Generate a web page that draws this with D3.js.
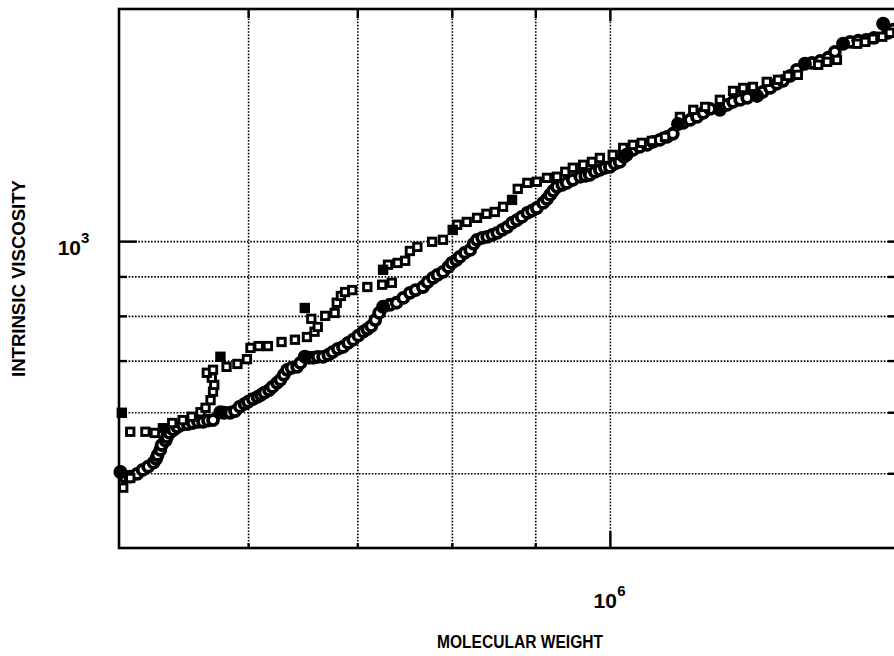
<!DOCTYPE html>
<html lang="en">
<head>
<meta charset="utf-8">
<title>Intrinsic viscosity vs molecular weight</title>
<script src="https://d3js.org/d3.v7.min.js"></script>
<style>
  body { margin: 0; background: #fff; }
  text { font-family: "Liberation Sans", Arial, sans-serif; font-weight: bold; fill: #000; }
  .grid line { stroke: #000; stroke-width: 1.6; stroke-dasharray: 1.6,1.6; }
  .ticks line { stroke: #000; stroke-width: 2.4; }
</style>
</head>
<body>
<div id="viz"></div>
<script>
// gridline / tick values
var xGrid = [6e5, 7e5, 8e5, 9e5, 1e6];
var yGrid = [500, 600, 700, 800, 900, 1000];

// [molecular weight, intrinsic viscosity]
var openSquares = [
  [503e3,479],[508e3,493],[508e3,566],[519e3,566],[526e3,564],[539e3,581],[547e3,586],[554e3,592],
  [561e3,600],[565e3,608],[569e3,622],[571e3,638],[572e3,651],[570e3,665],[566e3,675],[571e3,681],
  [582e3,687],[591e3,693],[599e3,703],[602e3,727],[609e3,731],[617e3,731],[629e3,740],[641e3,745],
  [652e3,751],[659e3,763],[662e3,774],[656e3,793],[669e3,800],[678e3,807],[680e3,832],[684e3,849],
  [688e3,859],[695e3,864],[710e3,872],[725e3,878],[735e3,883],[731e3,932],[741e3,937],[749e3,943],
  [754e3,971],[762e3,983],[778e3,998],[790e3,1004],[806e3,1050],[817e3,1059],[829e3,1072],[840e3,1085],
  [850e3,1091],[860e3,1108],[878e3,1169],[890e3,1190],[902e3,1194],[915e3,1208],[928e3,1212],[939e3,1230],
  [949e3,1245],[963e3,1256],[975e3,1267],[986e3,1282],[1004e3,1294],[1019e3,1321],[1033e3,1333],[1046e3,1341],
  [1061e3,1349],[1081e3,1365],[1104e3,1449],[1125e3,1480],[1144e3,1493],[1168e3,1525],[1190e3,1566],[1207e3,1580],
  [1224e3,1585],[1248e3,1609],[1268e3,1619],[1286e3,1638],[1304e3,1643],[1342e3,1693],[1359e3,1708],[1378e3,1718],
  [1418e3,1803],[1434e3,1813],[1450e3,1830],[1469e3,1841],[1485e3,1863]
];
var filledSquares = [
  [502e3,599],[532e3,572],[577e3,708],[650e3,819],[726e3,918],[801e3,1034],[871e3,1131]
];
var openCircles = [
  [504e3,495],[508e3,495],[513e3,499],[517e3,505],[521e3,510],[525e3,516],[527e3,522],[528e3,528],
  [530e3,536],[531e3,544],[534e3,551],[535e3,557],[537e3,564],[540e3,569],[543e3,574],[547e3,578],
  [551e3,579],[555e3,581],[559e3,583],[563e3,583],[567e3,585],[571e3,586],[580e3,599],[585e3,599],
  [589e3,602],[593e3,610],[597e3,615],[600e3,619],[604e3,624],[608e3,628],[611e3,632],[614e3,636],
  [618e3,641],[621e3,647],[625e3,655],[628e3,661],[631e3,671],[634e3,681],[638e3,685],[643e3,687],
  [646e3,695],[654e3,706],[658e3,706],[662e3,708],[667e3,708],[672e3,712],[676e3,718],[681e3,725],
  [686e3,729],[691e3,738],[696e3,745],[701e3,754],[706e3,763],[710e3,769],[714e3,776],[718e3,790],
  [722e3,807],[733e3,827],[740e3,832],[747e3,844],[754e3,857],[760e3,864],[768e3,872],[773e3,885],
  [779e3,896],[784e3,904],[790e3,912],[796e3,926],[800e3,937],[805e3,945],[809e3,954],[815e3,966],
  [821e3,974],[825e3,992],[829e3,1004],[835e3,1010],[841e3,1013],[847e3,1019],[853e3,1025],[859e3,1034],
  [865e3,1043],[871e3,1056],[877e3,1065],[883e3,1075],[890e3,1088],[896e3,1095],[902e3,1104],[910e3,1121],
  [915e3,1134],[919e3,1148],[923e3,1162],[928e3,1176],[935e3,1183],[941e3,1190],[949e3,1201],[959e3,1212],
  [966e3,1215],[972e3,1219],[979e3,1230],[986e3,1237],[993e3,1245],[1000e3,1248],[1007e3,1260],[1014e3,1267],
  [1020e3,1286],[1033e3,1313],[1043e3,1325],[1054e3,1333],[1063e3,1345],[1073e3,1353],[1084e3,1365],[1093e3,1378],
  [1109e3,1424],[1120e3,1436],[1131e3,1449],[1141e3,1467],[1152e3,1484],[1180e3,1502],[1190e3,1516],[1202e3,1525],
  [1214e3,1534],[1241e3,1562],[1254e3,1580],[1266e3,1600],[1277e3,1614],[1290e3,1638],[1302e3,1668],[1330e3,1703],
  [1346e3,1713],[1361e3,1729],[1374e3,1760],[1404e3,1813],[1420e3,1819],[1436e3,1824],[1452e3,1835],[1481e3,1863],
  [1492e3,1880]
];
var filledCircles = [
  [501e3,502],[577e3,600],[650e3,708],[726e3,822],[1024e3,1294],[1101e3,1419],
  [1168e3,1480],[1231e3,1543],[1317e3,1698],[1390e3,1803],[1471e3,1914]
];

var width = 894, height = 656;
var pLeft = 119, pRight = 897, pTop = 9, pBottom = 548;

var svg = d3.select("#viz").append("svg")
    .attr("width", width)
    .attr("height", height);

var x = d3.scaleLog().domain([5e5, 1.5e6]).range([pLeft, pRight]);
var y = d3.scaleLog().domain([400, 2000]).range([pBottom, pTop]);

// dotted grid
svg.append("g").attr("class", "grid")
    .attr("transform", "translate(0," + pBottom + ")")
    .call(d3.axisBottom(x).tickValues(xGrid).tickSize(-(pBottom - pTop)).tickFormat(""))
    .call(g => g.select(".domain").remove());
svg.append("g").attr("class", "grid")
    .attr("transform", "translate(" + pLeft + ",0)")
    .call(d3.axisLeft(y).tickValues(yGrid).tickSize(-(pRight - pLeft)).tickFormat(""))
    .call(g => g.select(".domain").remove());

// inward tick marks
function ticks(axis, vals, size, tx, ty) {
  svg.append("g").attr("class", "ticks")
      .attr("transform", "translate(" + tx + "," + ty + ")")
      .call(axis.tickValues(vals).tickSize(size).tickFormat(""))
      .call(g => g.select(".domain").remove());
}
ticks(d3.axisBottom(x), [6e5, 7e5, 8e5, 9e5], -5, 0, pBottom);
ticks(d3.axisBottom(x), [1e6], -17, 0, pBottom);
ticks(d3.axisTop(x), [6e5, 7e5, 8e5, 9e5], -9, 0, pTop);
ticks(d3.axisTop(x), [1e6], -12, 0, pTop);
ticks(d3.axisLeft(y), [500, 600, 700, 800, 900], -8, pLeft, 0);
ticks(d3.axisLeft(y), [1000], -18, pLeft, 0);
ticks(d3.axisRight(y), yGrid, -9, pRight, 0);

// frame
svg.append("rect")
    .attr("x", pLeft).attr("y", pTop)
    .attr("width", pRight - pLeft).attr("height", pBottom - pTop)
    .attr("fill", "none").attr("stroke", "#000").attr("stroke-width", 2.6);

// markers
svg.append("g").selectAll("circle")
    .data(openCircles).enter().append("circle")
    .attr("cx", d => x(d[0])).attr("cy", d => y(d[1]))
    .attr("r", 5)
    .attr("fill", "#fff").attr("stroke", "#000").attr("stroke-width", 3.8);

svg.append("g").selectAll("rect")
    .data(openSquares).enter().append("rect")
    .attr("x", d => x(d[0]) - 3.7).attr("y", d => y(d[1]) - 3.7)
    .attr("width", 7.4).attr("height", 7.4)
    .attr("fill", "#fff").attr("stroke", "#000").attr("stroke-width", 2.9);

svg.append("g").selectAll("circle")
    .data(filledCircles).enter().append("circle")
    .attr("cx", d => x(d[0])).attr("cy", d => y(d[1]))
    .attr("r", 7).attr("fill", "#000");

svg.append("g").selectAll("rect")
    .data(filledSquares).enter().append("rect")
    .attr("x", d => x(d[0]) - 5.2).attr("y", d => y(d[1]) - 5.2)
    .attr("width", 10.4).attr("height", 10.4).attr("fill", "#000");

// tick labels (10^3, 10^6)
svg.append("text").attr("x", pLeft - 38).attr("y", y(1000) + 14)
    .attr("text-anchor", "end").style("font-size", "21px").text("10");
svg.append("text").attr("x", pLeft - 38).attr("y", y(1000) + 2)
    .style("font-size", "15px").text("3");
svg.append("text").attr("x", x(1e6) + 7).attr("y", 608)
    .attr("text-anchor", "end").style("font-size", "21px").text("10");
svg.append("text").attr("x", x(1e6) + 7.5).attr("y", 596)
    .style("font-size", "15px").text("6");

// axis titles
svg.append("text")
    .attr("x", 520).attr("y", 648)
    .attr("text-anchor", "middle")
    .attr("textLength", 166).attr("lengthAdjust", "spacingAndGlyphs")
    .style("font-size", "18.5px")
    .text("MOLECULAR WEIGHT");
svg.append("text")
    .attr("transform", "translate(24.5,278.5) rotate(-90)")
    .attr("text-anchor", "middle")
    .attr("textLength", 197).attr("lengthAdjust", "spacingAndGlyphs")
    .style("font-size", "18.5px")
    .text("INTRINSIC VISCOSITY");
</script>
</body>
</html>
